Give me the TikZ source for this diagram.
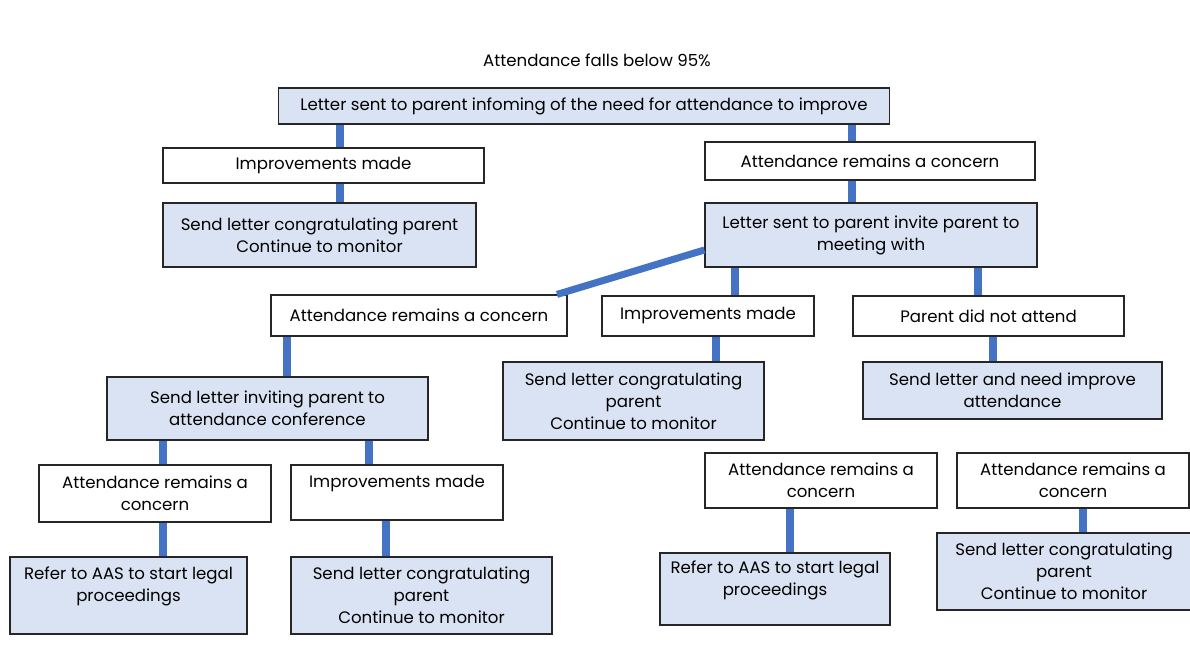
\documentclass[tikz,border=0pt]{standalone}
\usepackage{fontspec}
\setmainfont{Poppins}
\usetikzlibrary{positioning}
\definecolor{linkblue}{HTML}{4472C4}
\definecolor{boxblue}{HTML}{DAE3F3}

\begin{document}
\begin{tikzpicture}[
    x=0.025cm, y=-0.025cm,
    every node/.style={font=\fontsize{11.8}{15.6}\selectfont},
    box/.style={rectangle, draw=black!85, line width=0.8pt, fill=white, align=center, inner sep=0pt},
    fillbox/.style={box, fill=boxblue},
    link/.style={draw=linkblue, line width=5pt}
]
\useasboundingbox (0,0) rectangle (1190,655);

% nodes
\node (title) at (597,60) {Attendance falls below 95\%};
\node[fillbox, minimum width=15.25cm, minimum height=0.9cm] (letter) at (584,106) {Letter sent to parent infoming of the need for attendance to improve};

\node[box, minimum width=8.025cm, minimum height=0.875cm] (improve1) at (323.5,165.5) {Improvements made};
\node[fillbox, minimum width=7.825cm, minimum height=1.6cm] (congr1) at (319.5,235) {Send letter congratulating parent\\Continue to monitor};

\node[box, minimum width=8.25cm, minimum height=0.95cm] (concern1) at (870,161) {Attendance remains a concern};
\node[fillbox, minimum width=8.3cm, minimum height=1.6cm] (invite) at (871,235) {Letter sent to parent invite parent to\\meeting with};

\node[box, minimum width=7.4cm, minimum height=1.025cm] (concern2) at (419,315.5) {Attendance remains a concern};
\node[box, minimum width=5.3cm, minimum height=1cm] (improve2) at (708,316) {Improvements made};
\node[box, minimum width=6.775cm, minimum height=1cm] (noattend) at (988.5,316) {Parent did not attend};

\node[fillbox, minimum width=6.525cm, minimum height=1.95cm] (congr2) at (633.5,401) {Send letter congratulating\\parent\\Continue to monitor};
\node[fillbox, minimum width=7.475cm, minimum height=1.425cm] (needimp) at (1012.5,390.5) {Send letter and need improve\\attendance};
\node[fillbox, minimum width=8.025cm, minimum height=1.575cm] (conf) at (267.5,408.5) {Send letter inviting parent to\\attendance conference};

\node[box, minimum width=5.8cm, minimum height=1.425cm] (concern3) at (155,493.5) {Attendance remains a\\concern};
\node[box, minimum width=5.3cm, minimum height=1.375cm] (improve3) at (397,492.5) {Improvements made\\\mbox{}};
\node[fillbox, minimum width=5.925cm, minimum height=1.925cm] (aas1) at (128.5,595.5) {Refer to AAS to start legal\\proceedings\\\mbox{}};
\node[fillbox, minimum width=6.525cm, minimum height=1.925cm] (congr3) at (421.5,595.5) {Send letter congratulating\\parent\\Continue to monitor};

\node[box, minimum width=5.8cm, minimum height=1.375cm] (concern4) at (821,480.5) {Attendance remains a\\concern};
\node[box, minimum width=5.8cm, minimum height=1.375cm] (concern5) at (1073,480.5) {Attendance remains a\\concern};
\node[fillbox, minimum width=5.75cm, minimum height=1.8cm] (aas2) at (775,589) {Refer to AAS to start legal\\proceedings\\\mbox{}};
\node[fillbox, minimum width=6.35cm, minimum height=1.925cm] (congr4) at (1064,571.5) {Send letter congratulating\\parent\\Continue to monitor};

% connectors
\draw[link] (letter.south -| 340,0) -- (improve1.north -| 340,0);
\draw[link] (letter.south -| 852,0) -- (concern1.north -| 852,0);
\draw[link] (improve1.south -| 340,0) -- (congr1.north -| 340,0);
\draw[link] (concern1.south -| 852,0) -- (invite.north -| 852,0);
\draw[link] (invite.west |- 0,250) -- (concern2.north -| 557,0);
\draw[link] (invite.south -| 735,0) -- (improve2.north -| 735,0);
\draw[link] (invite.south -| 978,0) -- (noattend.north -| 978,0);
\draw[link] (concern2.south -| 287,0) -- (conf.north -| 287,0);
\draw[link] (improve2.south -| 716,0) -- (congr2.north -| 716,0);
\draw[link] (noattend.south -| 993,0) -- (needimp.north -| 993,0);
\draw[link] (conf.south -| 163,0) -- (concern3.north -| 163,0);
\draw[link] (conf.south -| 369,0) -- (improve3.north -| 369,0);
\draw[link] (concern3.south -| 163,0) -- (aas1.north -| 163,0);
\draw[link] (improve3.south -| 386,0) -- (congr3.north -| 386,0);
\draw[link] (concern4.south -| 790,0) -- (aas2.north -| 790,0);
\draw[link] (concern5.south -| 1083,0) -- (congr4.north -| 1083,0);
\end{tikzpicture}
\end{document}
